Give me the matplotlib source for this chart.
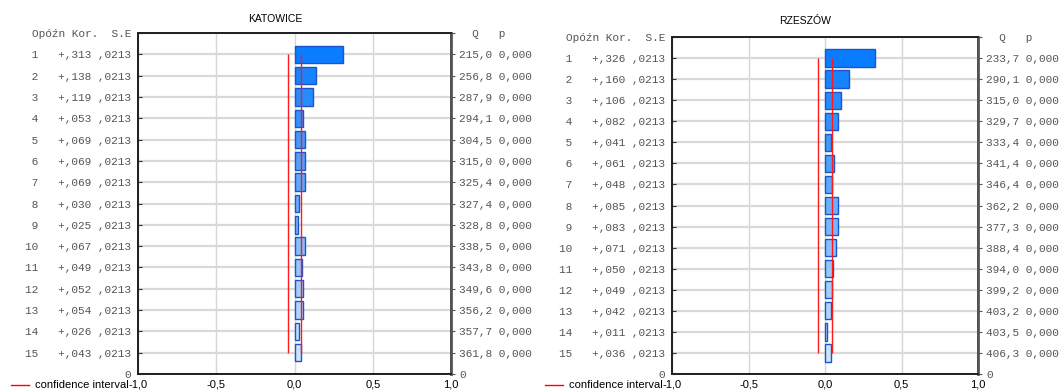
"""Autocorrelation plots for the two stations."""

import numpy as np
import matplotlib.pyplot as plt
from matplotlib.colors import to_rgb
from matplotlib.lines import Line2D

LAGS = list(range(1, 16))
STD_ERR = 0.0213

KAT_CORR = [0.313, 0.138, 0.119, 0.053, 0.069, 0.069, 0.069, 0.030,
            0.025, 0.067, 0.049, 0.052, 0.054, 0.026, 0.043]
KAT_Q = [215.0, 256.8, 287.9, 294.1, 304.5, 315.0, 325.4, 327.4,
         328.8, 338.5, 343.8, 349.6, 356.2, 357.7, 361.8]

RZE_CORR = [0.326, 0.160, 0.106, 0.082, 0.041, 0.061, 0.048, 0.085,
            0.083, 0.071, 0.050, 0.049, 0.042, 0.011, 0.036]
RZE_Q = [233.7, 290.1, 315.0, 329.7, 333.4, 341.4, 346.4, 362.2,
         377.3, 388.4, 394.0, 399.2, 403.2, 403.5, 406.3]

P_VALUES = [0.0] * 15

MONO = "Liberation Mono"
SANS = "Liberation Sans"


def fmt(value: float, decimals: int) -> str:
    """Polish decimal comma formatting."""
    return f"{value:.{decimals}f}".replace(".", ",")


def bar_colours(n: int) -> list:
    """Fill fades from saturated to pale blue down the lags."""
    start = np.array(to_rgb("#0a7cff"))
    end = np.array(to_rgb("#cfe4fa"))
    return [tuple(start + (end - start) * i / (n - 1)) for i in range(n)]


def plot_acf(fig, rect, title, title_xy, corr, q_stat, legend_x):
    ax = fig.add_axes(rect)
    ci = 2 * STD_ERR

    ax.barh(LAGS, corr, height=0.82, color=bar_colours(len(LAGS)),
            edgecolor="#1a55cc", linewidth=1.0, zorder=3)
    ax.vlines([-ci, ci], LAGS[0], LAGS[-1], color="#ff1a1a", linewidth=1.0,
              zorder=4)

    ax.set_xlim(-1, 1)
    ax.set_ylim(16, 0)
    ax.set_xticks([-1, -0.5, 0, 0.5, 1])
    ax.set_xticklabels([fmt(v, 1) for v in [-1, -0.5, 0, 0.5, 1]],
                       fontfamily=SANS, fontsize=8)
    ax.tick_params(axis="x", length=0, pad=4)

    left_labels = ["Opóźn Kor.  S.E"]
    left_labels += [f"{lag:>2}   +{fmt(c, 3)[1:]} {fmt(STD_ERR, 4)[1:]}"
                    for lag, c in zip(LAGS, corr)]
    left_labels += ["0"]
    ax.set_yticks(range(17))
    ax.set_yticklabels(left_labels, fontfamily=MONO, fontsize=8,
                       color="#555555")
    ax.tick_params(axis="y", direction="in", length=3, pad=5,
                   color="#333333")

    right = ax.twinx()
    right.set_ylim(16, 0)
    right_labels = ["  Q   p"]
    right_labels += [f"{fmt(q, 1)} {fmt(p, 3)}" for q, p in zip(q_stat, P_VALUES)]
    right_labels += ["0"]
    right.set_yticks(range(17))
    right.set_yticklabels(right_labels, fontfamily=MONO, fontsize=8,
                          color="#555555")
    right.tick_params(axis="y", direction="out", length=3, pad=3,
                      color="#555555")

    ax.grid(axis="y", color="#d9d9d9", linewidth=1.6, zorder=0)
    ax.grid(axis="x", color="#d6d6d6", linewidth=1.0, zorder=0)
    ax.set_axisbelow(True)
    for axis in (ax, right):
        for spine in axis.spines.values():
            spine.set_color("#222222")
            spine.set_linewidth(1.3)
    right.spines["right"].set_color("#555555")
    right.spines["right"].set_linewidth(2.0)

    fig.text(title_xy[0], title_xy[1], title, ha="center", va="center",
             fontfamily=SANS, fontsize=7.5)

    y_leg = 1 - 385 / 392
    fig.add_artist(Line2D([legend_x / 1061, (legend_x + 18) / 1061],
                          [y_leg, y_leg], color="red", linewidth=1.0))
    fig.text((legend_x + 24) / 1061, y_leg, "confidence interval",
             ha="left", va="center", fontfamily=SANS, fontsize=8)


fig = plt.figure(figsize=(10.61, 3.92), dpi=100)

plot_acf(fig, [138 / 1061, 1 - 374 / 392, 313 / 1061, 341 / 392],
         "KATOWICE", (275 / 1061, 1 - 19 / 392), KAT_CORR, KAT_Q, 11)
plot_acf(fig, [672 / 1061, 1 - 374 / 392, 306 / 1061, 337 / 392],
         "RZESZÓW", (805 / 1061, 1 - 21 / 392), RZE_CORR, RZE_Q, 545)

fig.savefig("out.png", dpi=100)
